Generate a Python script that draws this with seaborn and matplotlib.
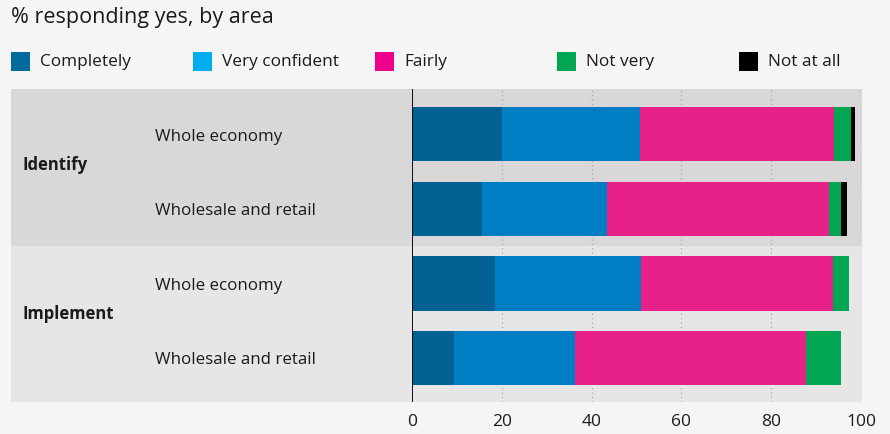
import matplotlib
matplotlib.use("Agg")
import matplotlib.pyplot as plt
import matplotlib.transforms as mtransforms
from matplotlib.patches import Rectangle
import numpy as np
import pandas as pd
import seaborn as sns

# Survey responses, % by area
groups = ["Identify", "Implement"]
rows = ["Whole economy", "Wholesale and retail", "Whole economy", "Wholesale and retail"]
segments = ["Completely", "Very confident", "Fairly", "Not very", "Not at all"]
completely = [20.0, 15.6, 18.5, 9.4]
very_confident = [30.7, 27.8, 32.5, 27.0]
fairly = [43.2, 49.5, 42.8, 51.4]
not_very = [3.9, 2.6, 3.5, 7.7]
not_at_all = [0.8, 1.4, 0.0, 0.0]
x_ticks = [0, 20, 40, 60, 80, 100]

bar_colors = ["#006192", "#007dc3", "#e8208a", "#00a651", "#000000"]
legend_colors = ["#006a9a", "#00aeef", "#ec008c", "#00a651", "#000000"]

W, H = 890, 434
sns.set_theme(style="white")
plt.rcParams["font.family"] = ["Open Sans", "DejaVu Sans"]
TEXT = "#1a1a1a"

fig = plt.figure(figsize=(W / 100, H / 100), dpi=100, facecolor="#f5f5f5")


def fx(px):
    return px / W


def fy(py):
    return 1 - py / H


ax = fig.add_axes([fx(412), fy(402), fx(861) - fx(412), (402 - 89) / H])
ax.patch.set_visible(False)

# cumulative totals, drawn longest first so each segment shows through
values = np.array([completely, very_confident, fairly, not_very, not_at_all])
cum = np.cumsum(values, axis=0)
row_ids = [f"r{i}" for i in range(len(rows))]
for k in range(len(segments) - 1, -1, -1):
    df = pd.DataFrame({"row": row_ids, "value": cum[k]})
    sns.barplot(data=df, x="value", y="row", orient="h", color=bar_colors[k],
                width=0.725, saturation=1, linewidth=0, ax=ax, zorder=3)

ax.set_xlim(0, 100)
ax.set_ylim(3.59, -0.61)
ax.set_xlabel("")
ax.set_ylabel("")
ax.set_yticks([])
ax.set_xticks(x_ticks)
ax.set_xticklabels([str(t) for t in x_ticks], fontsize=12.5, color=TEXT)
ax.tick_params(axis="x", length=0, pad=9)
for s in ax.spines.values():
    s.set_visible(False)

# dotted gridlines and the zero line
for t in x_ticks[1:]:
    ax.axvline(t, color="#a8a8a8", lw=0.9, ls=(0, (1, 2.5)), zorder=1)
ax.axvline(0, color="black", lw=1.3, zorder=4)

# shaded bands per group, spanning the label area too
blend = mtransforms.blended_transform_factory(fig.transFigure, ax.transData)
band_specs = [(-0.61, 1.5, "#d9d7d8"), (1.5, 3.59, "#e6e6e6")]
for y0, y1, c in band_specs:
    ax.add_patch(Rectangle((fx(11), y0), fx(862) - fx(11), y1 - y0,
                           transform=blend, facecolor=c, edgecolor="none",
                           zorder=0, clip_on=False))

# row and group labels
for i, lab in enumerate(rows):
    ax.text(fx(155), i + 0.03, lab, transform=blend, ha="left", va="center",
            fontsize=12.2, color=TEXT)
for g, lab in enumerate(groups):
    ax.text(fx(22), 2 * g + 0.41, lab, transform=blend, ha="left", va="center",
            fontsize=12, fontweight="bold", color=TEXT)

# title
fig.text(fx(11), fy(17), "% responding yes, by area", ha="left", va="center",
         fontsize=15.5, color=TEXT)

# legend
leg_x = [11, 193, 375, 557, 739]
for x0, lab, c in zip(leg_x, segments, legend_colors):
    fig.patches.append(Rectangle((fx(x0), fy(71)), fx(19), 19 / H,
                                 transform=fig.transFigure, facecolor=c,
                                 edgecolor="none"))
    fig.text(fx(x0 + 29), fy(62), lab, ha="left", va="center",
             fontsize=12.4, color=TEXT)

fig.savefig("out.png", dpi=100, facecolor=fig.get_facecolor())
